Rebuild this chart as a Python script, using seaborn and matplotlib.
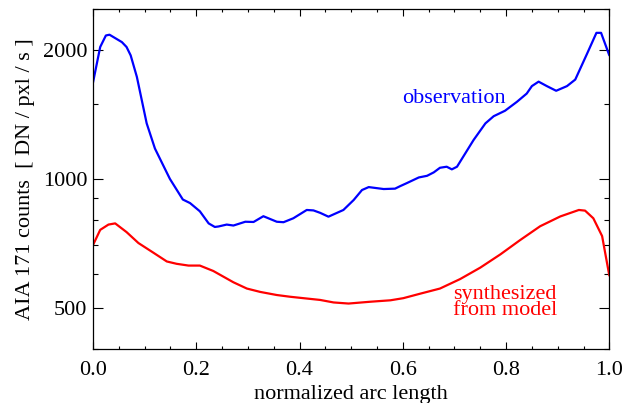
import numpy as np
import pandas as pd
import seaborn as sns
import matplotlib
matplotlib.use('Agg')
import matplotlib.pyplot as plt
from matplotlib.ticker import FixedLocator, FixedFormatter, NullFormatter, MultipleLocator

# observation (blue)
obs_x = [0.0, 0.014, 0.025, 0.032, 0.056, 0.065, 0.073, 0.085, 0.104, 0.12, 0.14, 0.149,
         0.174, 0.188, 0.207, 0.224, 0.236, 0.243, 0.259, 0.272, 0.295, 0.311, 0.33, 0.356,
         0.369, 0.388, 0.414, 0.427, 0.44, 0.456, 0.485, 0.505, 0.521, 0.534, 0.563, 0.585,
         0.595, 0.608, 0.631, 0.647, 0.66, 0.672, 0.685, 0.695, 0.705, 0.737, 0.76, 0.776,
         0.798, 0.821, 0.84, 0.85, 0.863, 0.879, 0.897, 0.918, 0.934, 0.957, 0.975, 0.984, 1.0]
obs_y = [1680, 2036, 2166, 2175, 2090, 2036, 1946, 1733, 1349, 1178, 1052, 1000,
         895, 878, 840, 787, 772, 774, 782, 778, 794, 793, 818, 794,
         792, 809, 846, 844, 833, 816, 846, 893, 942, 957, 947, 949,
         962, 978, 1008, 1017, 1036, 1062, 1068, 1053, 1068, 1233, 1349, 1402,
         1444, 1515, 1584, 1649, 1689, 1649, 1608, 1649, 1708, 1965, 2197, 2197, 1946]

# synthesized from model (red)
mod_x = [0.0, 0.014, 0.03, 0.043, 0.065, 0.088, 0.117, 0.143, 0.162, 0.185, 0.207, 0.233,
         0.272, 0.298, 0.324, 0.356, 0.382, 0.414, 0.44, 0.466, 0.495, 0.537, 0.576, 0.601,
         0.634, 0.672, 0.711, 0.75, 0.789, 0.827, 0.866, 0.905, 0.941, 0.953, 0.969, 0.986, 1.0]
mod_y = [700, 760, 782, 787, 751, 708, 672, 641, 633, 627, 627, 609,
         573, 554, 544, 535, 530, 525, 521, 514, 511, 516, 520, 526,
         539, 554, 583, 620, 666, 719, 775, 817, 846, 843, 809, 735, 594]

sns.set_style('ticks')
plt.rcParams['font.family'] = ['Liberation Serif', 'DejaVu Serif']
plt.rcParams['text.color'] = 'black'
plt.rcParams['axes.labelcolor'] = 'black'

fig = plt.figure(figsize=(6.24, 4.03), dpi=100)
ax = fig.add_axes([0.149, 0.134, 0.8275, 0.844])

obs = pd.DataFrame({'x': obs_x, 'y': obs_y})
mod = pd.DataFrame({'x': mod_x, 'y': mod_y})
sns.lineplot(data=obs, x='x', y='y', color='#0000ff', lw=1.6, ax=ax)
sns.lineplot(data=mod, x='x', y='y', color='#ff0000', lw=1.6, ax=ax)

ax.set_yscale('log')
ax.set_xlim(0, 1)
ax.set_ylim(400, 2500)

ax.xaxis.set_major_locator(MultipleLocator(0.2))
ax.xaxis.set_minor_locator(MultipleLocator(0.05))
ax.set_xticklabels(['%.1f' % v for v in ax.get_xticks()])
ax.yaxis.set_major_locator(FixedLocator([500, 1000, 2000]))
ax.yaxis.set_minor_locator(FixedLocator([400, 600, 700, 800, 900, 1500, 2500]))
ax.yaxis.set_major_formatter(FixedFormatter(['500', '1000', '2000']))
ax.yaxis.set_minor_formatter(NullFormatter())

ax.tick_params(axis='both', which='both', direction='in', top=True, right=True,
               labelsize=16, width=0.8, color='black', labelcolor='black')
ax.tick_params(axis='x', which='major', length=5, pad=9)
ax.tick_params(axis='x', which='minor', length=2.5)
ax.tick_params(axis='y', which='major', length=7, pad=4)
ax.tick_params(axis='y', which='minor', length=3.5)
for s in ax.spines.values():
    s.set_linewidth(0.9)
    s.set_color('black')

ax.set_xlabel('normalized arc length', fontsize=16, labelpad=3)
ax.set_ylabel('AIA 171 counts  [ DN / pxl / s ]', fontsize=16, labelpad=6)

ax.text(0.70, 1546, 'observation', color='#0000ff', fontsize=16, ha='center', va='center')
ax.text(0.798, 514, 'synthesized\nfrom model', color='#ff0000', fontsize=16,
        ha='center', va='center', linespacing=0.78)

fig.savefig('out.png', dpi=100)
